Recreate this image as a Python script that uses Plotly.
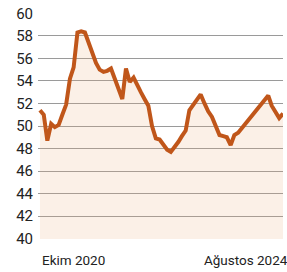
import pandas as pd
import plotly.graph_objects as go

months = pd.date_range("2020-01-01", periods=66, freq="MS")
values = [
    51.4, 51.0, 48.7, 50.2, 49.9, 50.1, 51.0, 51.9, 54.2, 55.2,
    58.3, 58.4, 58.3, 57.4, 56.5, 55.6, 55.0, 54.8, 54.9, 55.1,
    54.2, 53.3, 52.4, 55.1, 53.9, 54.3, 53.6, 53.0, 52.4, 51.8,
    50.0, 48.9, 48.8, 48.3, 47.9, 47.7, 48.1, 48.6, 49.1, 49.6,
    51.4, 51.9, 52.3, 52.8, 52.0, 51.3, 50.8, 50.0, 49.2, 49.1,
    49.0, 48.3, 49.2, 49.4, 49.8, 50.2, 50.6, 51.0, 51.4, 51.9,
    52.3, 52.7, 51.8, 51.2, 50.7, 51.1,
]
x_tick_vals = ["2020-10-01", "2024-08-01"]
x_tick_text = ["Ekim 2020", "Ağustos 2024"]
y_ticks = [40, 42, 44, 46, 48, 50, 52, 54, 56, 58, 60]

fig = go.Figure()
fig.add_trace(go.Scatter(
    x=months, y=values, mode="lines",
    line=dict(color="#C0561A", width=4),
    fill="tozeroy", fillcolor="rgba(235,170,120,0.18)",
    hoverinfo="skip",
))

fig.update_layout(
    width=287, height=272,
    margin=dict(l=38, r=0, t=13, b=33),
    paper_bgcolor="white", plot_bgcolor="white",
    showlegend=False,
    font=dict(family="Roboto", color="#222222"),
)
fig.update_xaxes(
    range=["2019-12-16", "2025-06-01"],
    tickvals=x_tick_vals, ticktext=x_tick_text,
    showgrid=False, zeroline=False, showline=False, ticks="",
    tickfont=dict(size=13.5, color="#222222"),
    ticklabelstandoff=11, ticklabeloverflow="allow",
)
fig.update_yaxes(
    range=[39.97, 60.03], tickvals=y_ticks,
    showgrid=True, gridcolor="#9A9A9A", gridwidth=1,
    zeroline=False, showline=False, ticks="",
    tickfont=dict(size=15, color="#222222"),
    ticklabelstandoff=4, ticklabeloverflow="allow",
)
fig.write_html(
    "out.html",
    config={"displayModeBar": False, "staticPlot": True},
    post_script="document.body.style.margin='0';document.body.style.overflow='hidden';",
)
